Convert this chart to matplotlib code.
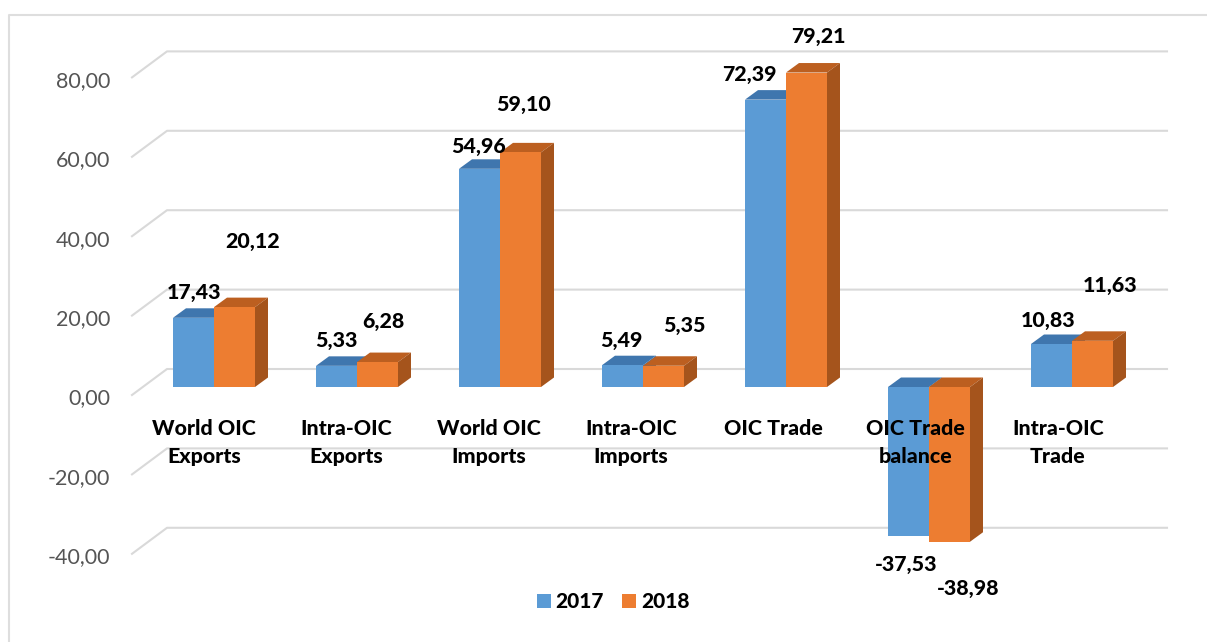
"""3D-look clustered bars of OIC trade figures, drawn on a plain 2D axes."""

import matplotlib

matplotlib.use("Agg")
import matplotlib.pyplot as plt
from matplotlib.lines import Line2D
from matplotlib.patches import Polygon

plt.rcParams["font.family"] = ["Lato", "DejaVu Sans"]

W, H = 1207, 642

categories = [
    "World OIC\nExports",
    "Intra-OIC\nExports",
    "World OIC\nImports",
    "Intra-OIC\nImports",
    "OIC Trade",
    "OIC Trade\nbalance",
    "Intra-OIC\nTrade",
]
values_2017 = [17.43, 5.33, 54.96, 5.49, 72.39, -37.53, 10.83]
values_2018 = [20.12, 6.28, 59.10, 5.35, 79.21, -38.98, 11.63]
labels_2017 = ["17,43", "5,33", "54,96", "5,49", "72,39", "-37,53", "10,83"]
labels_2018 = ["20,12", "6,28", "59,10", "5,35", "79,21", "-38,98", "11,63"]
y_ticks = [-40, -20, 0, 20, 40, 60, 80]
y_tick_labels = ["-40,00", "-20,00", "0,00", "20,00", "40,00", "60,00", "80,00"]

# where the data labels sit in the picture (centre, pixels)
label_px_2017 = [(194, 292), (336, 341), (479, 146), (621, 341), (749, 75), (906, 564), (1048, 320)]
label_px_2018 = [(253, 242), (383, 322), (524, 105), (684, 326), (818, 36), (968, 588), (1110, 286)]

# scale of the picture: one category = 143 px, one unit = 3.97 px
PX_X = 143.0
PX_Y = 3.97
X0_PX, Y0_PX = 214.0, 387.0
BAR_W = 41 / PX_X
DEPTH_X = 13 / PX_X
DEPTH_Y = 9.5 / PX_Y

BLUE, BLUE_TOP = "#5B9BD5", "#3F76AE"
ORANGE, ORANGE_TOP, ORANGE_SIDE = "#ED7D31", "#BC5F20", "#A5541C"
GRID = "#D9D9D9"


def at_px(x, y):
    return x / W, 1 - y / H


fig = plt.figure(figsize=(W / 100, H / 100), dpi=100)
ax = fig.add_axes([0, 0, 1, 1])
ax.set_xlim(-X0_PX / PX_X, (W - X0_PX) / PX_X)
ax.set_ylim((Y0_PX - H) / PX_Y, Y0_PX / PX_Y)
ax.axis("off")

# the outer frame only shows on its left and top sides
frame_x, frame_y = zip(at_px(9, H), at_px(9, 15), at_px(W, 15))
fig.add_artist(Line2D(frame_x, frame_y, transform=fig.transFigure, color="#DEDEDE", lw=1.5))

# back wall gridlines plus the diagonal floor piece at the left
grid_dx = 35 / PX_X
grid_dy = 26 / PX_Y
wall_left = (132 - X0_PX) / PX_X
wall_right = (1167 - X0_PX) / PX_X
wall_drop = 8 / PX_Y
for tick, tick_label in zip(y_ticks, y_tick_labels):
    front = tick - wall_drop
    ax.plot(
        [wall_left, wall_left + grid_dx, wall_right],
        [front, front + grid_dy, front + grid_dy],
        color=GRID, lw=1.5, zorder=1,
    )
    ax.text((110 - X0_PX) / PX_X, front - 0.9, tick_label, ha="right", va="center",
            fontsize=15.5, color="#555555")


def draw_series(values, offset, front, top, side, zorder, name):
    xs = [i + offset for i in range(len(values))]
    ax.bar(xs, values, BAR_W, align="edge", color=front, zorder=zorder + 0.2, label=name)
    for x, v in zip(xs, values):
        high = max(v, 0)
        right = x + BAR_W
        ax.add_patch(Polygon(
            [(x, high), (x + DEPTH_X, high + DEPTH_Y), (right + DEPTH_X, high + DEPTH_Y), (right, high)],
            color=top, lw=0, zorder=zorder,
        ))
        ax.add_patch(Polygon(
            [(right, high), (right + DEPTH_X, high + DEPTH_Y), (right + DEPTH_X, min(v, 0) + DEPTH_Y), (right, min(v, 0))],
            color=side, lw=0, zorder=zorder,
        ))


draw_series(values_2017, -BAR_W, BLUE, BLUE_TOP, BLUE_TOP, 2, "2017")
draw_series(values_2018, 0, ORANGE, ORANGE_TOP, ORANGE_SIDE, 3, "2018")

# category labels run on a slightly tighter pitch than the bars
for i, name in enumerate(categories):
    ax.text(i - (10 + 0.7 * i) / PX_X, (Y0_PX - 419) / PX_Y, name, ha="center", va="top",
            fontsize=15.4, fontweight=900, color="black", linespacing=1.55, zorder=5)

for text, pos in zip(labels_2017 + labels_2018, label_px_2017 + label_px_2018):
    fig.text(*at_px(*pos), text, ha="center", va="center", fontsize=15.4,
             fontweight=900, color="black", zorder=6)

ax.legend(
    loc="center", bbox_to_anchor=at_px(613, 601.5), bbox_transform=fig.transFigure, ncol=2, frameon=False,
    handlelength=0.67, handleheight=0.67, handletextpad=0.24, columnspacing=0.87,
    borderpad=0, prop={"size": 15, "weight": 900},
)

fig.savefig("out.png", dpi=100)
